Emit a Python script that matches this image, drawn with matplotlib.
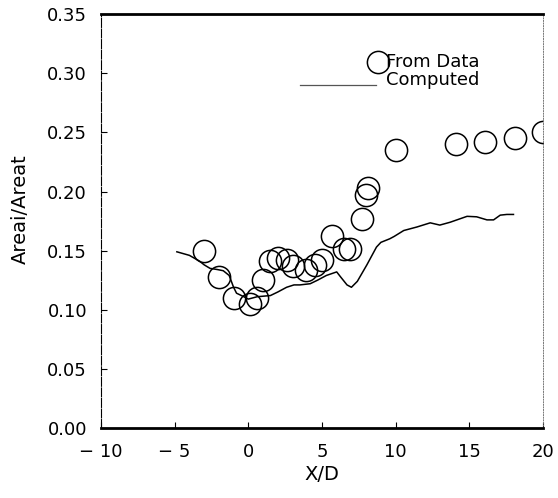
import matplotlib.pyplot as plt

# measured area ratio along the duct
data_x = [-3.0, -2.0, -1.0, 0.1, 0.6, 1.0, 1.5, 2.0, 2.6, 3.0, 3.9, 4.5, 5.0,
          5.7, 6.5, 6.9, 7.7, 8.0, 8.1, 10.0, 14.1, 16.1, 18.1, 20.0]
data_y = [0.150, 0.128, 0.110, 0.105, 0.110, 0.125, 0.141, 0.144, 0.142, 0.137,
          0.134, 0.138, 0.142, 0.162, 0.151, 0.151, 0.177, 0.197, 0.203, 0.235,
          0.240, 0.242, 0.245, 0.250]

# computed area ratio
calc_x = [-4.85, -4.0, -3.3, -3.0, -2.6, -2.1, -1.7, -1.3, -1.0, -0.8, -0.3, 0.0,
          0.6, 1.5, 2.0, 2.6, 3.1, 3.5, 4.2, 4.7, 5.3, 6.0, 6.25, 6.7, 7.0, 7.4,
          8.05, 8.7, 9.0, 9.6, 9.9, 10.55, 11.45, 12.35, 13.0, 13.7, 14.85, 15.5,
          16.2, 16.65, 17.1, 17.55, 18.0]
calc_y = [0.149, 0.146, 0.141, 0.138, 0.135, 0.134, 0.133, 0.129, 0.119, 0.114,
          0.111, 0.109, 0.111, 0.112, 0.115, 0.119, 0.121, 0.121, 0.122, 0.125,
          0.129, 0.132, 0.128, 0.121, 0.119, 0.124, 0.138, 0.153, 0.157, 0.160,
          0.162, 0.167, 0.170, 0.1735, 0.1716, 0.174, 0.179, 0.1786, 0.176, 0.176,
          0.180, 0.1806, 0.1806]

x_ticks = [-10, -5, 0, 5, 10, 15, 20]
y_ticks = [0.00, 0.05, 0.10, 0.15, 0.20, 0.25, 0.30, 0.35]

plt.rcParams['font.family'] = 'DejaVu Sans'

fig = plt.figure(figsize=(5.58, 4.98), dpi=100)
ax = fig.add_axes([0.181, 0.1406, 0.792, 0.831])

ax.plot(calc_x, calc_y, color='black', linewidth=1.1)
ax.plot(data_x, data_y, linestyle='none', marker='o', markersize=16,
        markerfacecolor='none', markeredgecolor='black', markeredgewidth=1.1)

ax.set_xlim(-10, 20)
ax.set_ylim(0, 0.35)
ax.set_xticks(x_ticks)
ax.set_yticks(y_ticks)
ax.set_xticklabels([str(t).replace('-', '\u2212 ') for t in x_ticks])
ax.set_yticklabels(['%.2f' % t for t in y_ticks])
ax.tick_params(direction='in', length=4, width=0.8, labelsize=13,
               colors='black')
ax.tick_params(axis='x', pad=11)
ax.tick_params(axis='y', pad=10)

ax.set_xlabel('X/D', fontsize=14, labelpad=3)
ax.set_ylabel('Areai/Areat', fontsize=14)
ax.yaxis.set_label_coords(-0.16, 0.53)

ax.spines['top'].set_linewidth(2.0)
ax.spines['bottom'].set_linewidth(2.0)
ax.spines['left'].set_linewidth(0.8)
ax.spines['left'].set_linestyle((0, (8, 1.5)))
ax.spines['right'].set_linewidth(0.7)
ax.spines['right'].set_linestyle(':')
ax.spines['right'].set_color('#777777')

# legend keys
ax.plot([0.627], [0.884], transform=ax.transAxes, marker='o', markersize=16,
        markerfacecolor='none', markeredgecolor='black', markeredgewidth=1.1,
        clip_on=False)
ax.text(0.645, 0.884, 'From Data', transform=ax.transAxes, fontsize=13,
        va='center', ha='left')
ax.plot([0.45, 0.622], [0.829, 0.829], transform=ax.transAxes,
        color='#555555', linewidth=0.9)
ax.text(0.645, 0.842, 'Computed', transform=ax.transAxes, fontsize=13,
        va='center', ha='left')

fig.savefig('out.png', dpi=100)
